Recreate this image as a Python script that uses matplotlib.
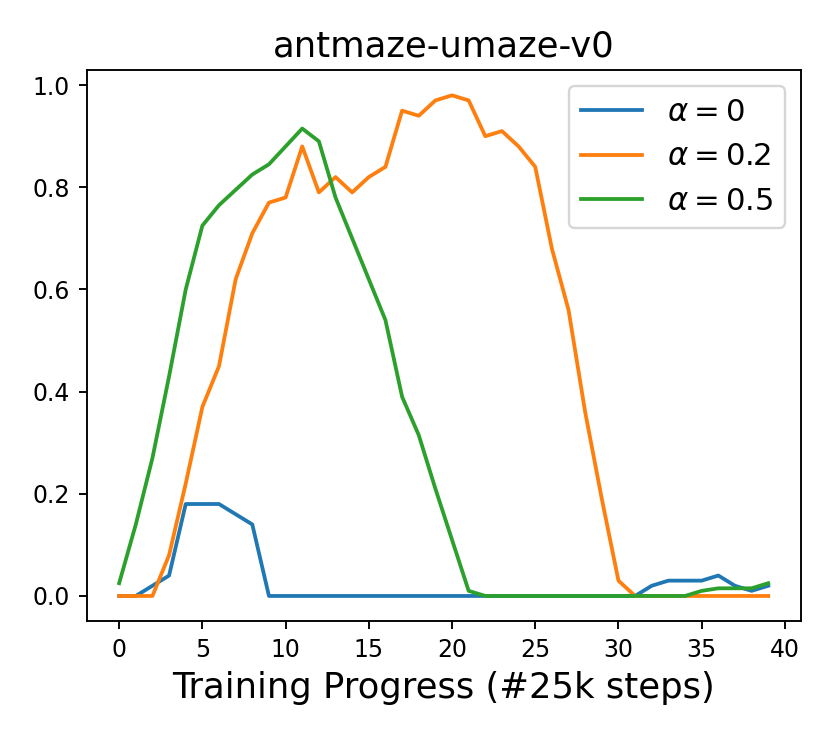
import matplotlib
matplotlib.use("Agg")
import matplotlib.pyplot as plt
import numpy as np

# success rate per checkpoint (40 checkpoints, #25k steps each)
steps = np.arange(40)

alpha_0 = [0.0, 0.0, 0.02, 0.04, 0.18, 0.18, 0.18, 0.16, 0.14, 0.0,
           0.0, 0.0, 0.0, 0.0, 0.0, 0.0, 0.0, 0.0, 0.0, 0.0,
           0.0, 0.0, 0.0, 0.0, 0.0, 0.0, 0.0, 0.0, 0.0, 0.0,
           0.0, 0.0, 0.02, 0.03, 0.03, 0.03, 0.04, 0.02, 0.01, 0.02]

alpha_02 = [0.0, 0.0, 0.0, 0.08, 0.22, 0.37, 0.45, 0.62, 0.71, 0.77,
            0.78, 0.88, 0.79, 0.82, 0.79, 0.82, 0.84, 0.95, 0.94, 0.97,
            0.98, 0.97, 0.90, 0.91, 0.88, 0.84, 0.68, 0.56, 0.36, 0.19,
            0.03, 0.0, 0.0, 0.0, 0.0, 0.0, 0.0, 0.0, 0.0, 0.0]

alpha_05 = [0.025, 0.14, 0.27, 0.43, 0.60, 0.725, 0.765, 0.795, 0.825, 0.845,
            0.88, 0.915, 0.89, 0.78, 0.70, 0.62, 0.54, 0.39, 0.315, 0.21,
            0.11, 0.01, 0.0, 0.0, 0.0, 0.0, 0.0, 0.0, 0.0, 0.0,
            0.0, 0.0, 0.0, 0.0, 0.0, 0.01, 0.015, 0.015, 0.015, 0.025]

labels = [r"$\alpha=0$", r"$\alpha=0.2$", r"$\alpha=0.5$"]

fig = plt.figure(figsize=(830 / 170, 738 / 170), dpi=170)
ax = fig.add_axes([86.7 / 830, 1 - 621 / 738, (800.7 - 86.7) / 830, (621 - 70.3) / 738])

for series, label in zip([alpha_0, alpha_02, alpha_05], labels):
    ax.plot(steps, series, label=label, linewidth=1.6)

ax.set_title("antmaze-umaze-v0", fontsize=15)
ax.set_xlabel("Training Progress (#25k steps)", fontsize=15)
ax.set_xticks([0, 5, 10, 15, 20, 25, 30, 35, 40])
ax.legend(loc="upper right", fontsize=13)

fig.savefig("out.png", dpi=170)
